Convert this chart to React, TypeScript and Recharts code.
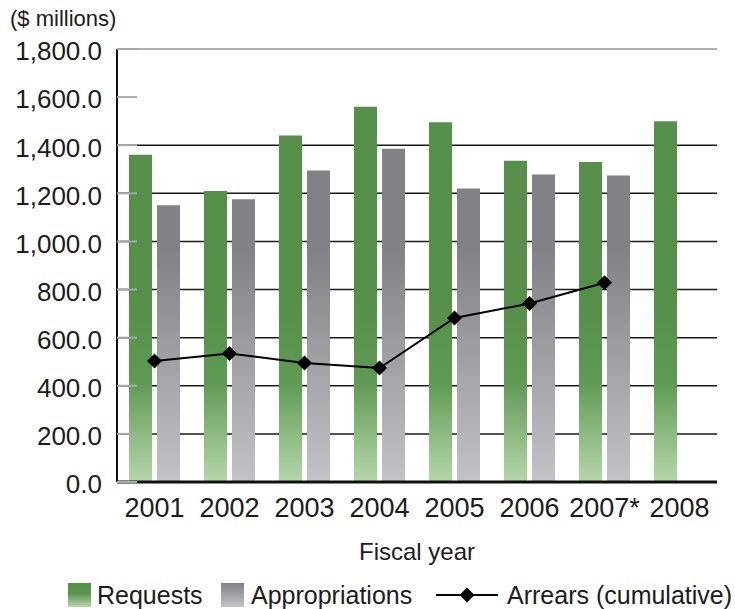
import React from 'react';
import {
  ComposedChart,
  Bar,
  Line,
  XAxis,
  YAxis,
  CartesianGrid,
  ReferenceLine,
  Label,
} from 'recharts';

// Fiscal years on the category axis
const years = ['2001', '2002', '2003', '2004', '2005', '2006', '2007*', '2008'];
// Budget requests, $ millions
const requests = [1360, 1210, 1440, 1560, 1495, 1335, 1330, 1500];
// Appropriations, $ millions (none yet for 2008)
const appropriations = [1150, 1175, 1295, 1385, 1220, 1278, 1274, null];
// Cumulative arrears, $ millions
const arrears = [503, 534, 495, 474, 682, 742, 828, null];
// Value-axis ticks and the levels that get a full-width rule
const yTicks = [0, 200, 400, 600, 800, 1000, 1200, 1400, 1600, 1800];
const ruleValues = [200, 400, 600, 800, 1000, 1200, 1400];
const topValue = 1800;

const data = years.map((year, i) => ({
  year,
  requests: requests[i],
  appropriations: appropriations[i],
  arrears: arrears[i],
}));

const FONT = '"Liberation Sans", Arial, Helvetica, sans-serif';
const TEXT = '#1c1c1c';

const fmt = (v: number) =>
  v.toLocaleString('en-US', { minimumFractionDigits: 1, maximumFractionDigits: 1 });

const YTick = (props: any) => {
  const { x, y, payload } = props;
  const axisX = x + 15;
  return (
    <g>
      <line x1={axisX} x2={axisX + 20} y1={y} y2={y} stroke="#a9a9a9" strokeWidth={2} />
      <text
        x={x}
        y={y + 2}
        dy="0.36em"
        textAnchor="end"
        fontSize={26}
        fontFamily={FONT}
        fill={TEXT}
      >
        {fmt(payload.value)}
      </text>
    </g>
  );
};

const Diamond = (props: any) => {
  const { cx, cy, value } = props;
  if (cx == null || cy == null || value == null) return null;
  const r = 7.5;
  return (
    <polygon
      points={`${cx},${cy - r} ${cx + r},${cy} ${cx},${cy + r} ${cx - r},${cy}`}
      fill="#000"
    />
  );
};

const GreenSwatch = () => (
  <svg width={23} height={24} style={{ display: 'block' }}>
    <defs>
      <linearGradient id="lgGreen" x1="0" y1="0" x2="0" y2="1">
        <stop offset="0" stopColor="#558f4a" />
        <stop offset="0.45" stopColor="#5b9551" />
        <stop offset="1" stopColor="#b8d9ad" />
      </linearGradient>
    </defs>
    <rect width={23} height={24} fill="url(#lgGreen)" />
  </svg>
);

const GraySwatch = () => (
  <svg width={23} height={24} style={{ display: 'block' }}>
    <defs>
      <linearGradient id="lgGray" x1="0" y1="0" x2="0" y2="1">
        <stop offset="0" stopColor="#818185" />
        <stop offset="1" stopColor="#c4c4c8" />
      </linearGradient>
    </defs>
    <rect width={23} height={24} fill="url(#lgGray)" />
  </svg>
);

const LineSwatch = () => (
  <svg width={62} height={20} style={{ display: 'block' }}>
    <line x1={0} x2={62} y1={10} y2={10} stroke="#000" strokeWidth={2} />
    <polygon points="31,2.5 38.5,10 31,17.5 23.5,10" fill="#000" />
  </svg>
);

const legendText: React.CSSProperties = {
  position: 'absolute',
  fontFamily: FONT,
  fontSize: 25,
  color: TEXT,
  lineHeight: '28px',
  whiteSpace: 'nowrap',
};

export default function App() {
  return (
    <div
      style={{
        position: 'absolute',
        left: 0,
        top: 0,
        width: 735,
        height: 609,
        background: '#fff',
        overflow: 'hidden',
      }}
    >
      <div
        style={{
          position: 'absolute',
          left: 10,
          top: 6,
          fontFamily: FONT,
          fontSize: 22,
          color: TEXT,
          lineHeight: '26px',
          whiteSpace: 'nowrap',
        }}
      >
        ($ millions)
      </div>

      <ComposedChart
        width={735}
        height={609}
        data={data}
        margin={{ top: 49, right: 18, bottom: 47, left: 0 }}
        barSize={23}
        barGap={5}
      >
        <defs>
          <linearGradient id="barGreen" gradientUnits="userSpaceOnUse" x1="0" y1="300" x2="0" y2="482">
            <stop offset="0" stopColor="#558f4a" />
            <stop offset="0.45" stopColor="#5f9a54" />
            <stop offset="1" stopColor="#b6d7ab" />
          </linearGradient>
          <linearGradient id="barGray" gradientUnits="userSpaceOnUse" x1="0" y1="250" x2="0" y2="482">
            <stop offset="0" stopColor="#828286" />
            <stop offset="1" stopColor="#c3c3c7" />
          </linearGradient>
        </defs>

        <CartesianGrid
          vertical={false}
          horizontalValues={ruleValues}
          stroke="#1a1a1a"
          strokeWidth={1.5}
        />
        <ReferenceLine y={topValue} stroke="#b0b0b0" strokeWidth={2} />

        <YAxis
          domain={[0, 1800]}
          ticks={yTicks}
          interval={0}
          width={117}
          tickSize={0}
          tickMargin={15}
          tickLine={false}
          axisLine={{ stroke: '#111', strokeWidth: 2 }}
          tick={<YTick />}
          zIndex={250}
        />
        <XAxis
          dataKey="year"
          height={80}
          interval={0}
          tickSize={0}
          tickMargin={16}
          tickLine={false}
          axisLine={{ stroke: '#111', strokeWidth: 3 }}
          tick={{ fontSize: 27, fontFamily: FONT, fill: TEXT }}
        >
          <Label
            value="Fiscal year"
            position="insideBottom"
            offset={2}
            fontSize={24}
            fontFamily={FONT}
            fill={TEXT}
          />
        </XAxis>

        <Bar dataKey="requests" fill="url(#barGreen)" isAnimationActive={false} />
        <Bar dataKey="appropriations" fill="url(#barGray)" isAnimationActive={false} />
        <Line
          dataKey="arrears"
          stroke="#000"
          strokeWidth={2}
          dot={<Diamond />}
          activeDot={false}
          isAnimationActive={false}
        />
      </ComposedChart>

      <div style={{ position: 'absolute', left: 68, top: 583 }}>
        <GreenSwatch />
      </div>
      <div style={{ ...legendText, left: 97, top: 581 }}>Requests</div>
      <div style={{ position: 'absolute', left: 221, top: 583 }}>
        <GraySwatch />
      </div>
      <div style={{ ...legendText, left: 251, top: 581 }}>Appropriations</div>
      <div style={{ position: 'absolute', left: 436, top: 585 }}>
        <LineSwatch />
      </div>
      <div style={{ ...legendText, left: 507, top: 581 }}>Arrears (cumulative)</div>
    </div>
  );
}
